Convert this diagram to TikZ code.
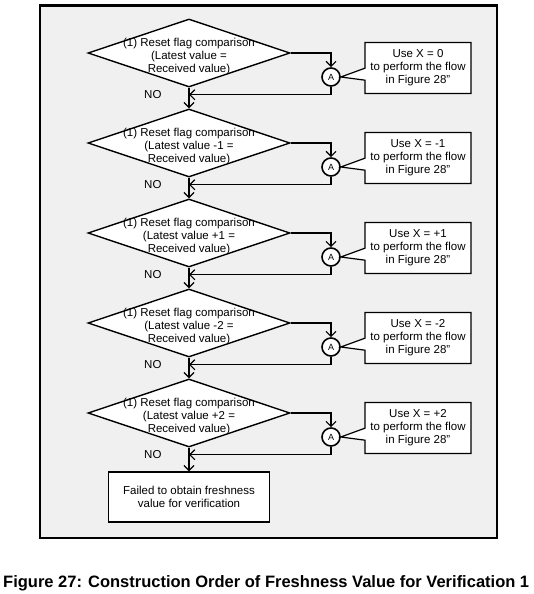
\documentclass[tikz,border=0pt]{standalone}
\usepackage{fontspec}
\setmainfont{Liberation Sans}
\usetikzlibrary{arrows.meta,positioning,shapes.geometric,shapes.callouts}
\definecolor{framebg}{HTML}{F0F0F0}

\begin{document}
\begin{tikzpicture}[x=1pt,y=1pt,node distance=90pt,on grid,
    every node/.style={font=\fontsize{11.5}{13}\selectfont},
    cmp/.style={diamond,draw,fill=white,line width=1.4pt,minimum width=202pt,minimum height=68pt,inner sep=0pt},
    cmptext/.style={align=center,inner sep=0pt},
    conn/.style={circle,draw,fill=white,line width=1.6pt,minimum size=18pt,inner sep=0pt,font=\fontsize{9}{9}\selectfont},
    usebox/.style={rectangle callout,draw,fill=white,line width=1.2pt,minimum width=106pt,minimum height=51pt,align=center,inner sep=0pt,callout pointer width=12pt},
    arr/.style={-{Straight Barb[length=5pt,width=10pt]},line width=1.2pt}]
        \useasboundingbox (0,0) rectangle (534,-594);
        \draw[line width=2.6pt,fill=framebg] (40,-5.5) rectangle (497,-538);

        % comparisons
        \node[cmp] (cmp_1) at (189,-53) {};
        \node[cmp] (cmp_2) [below=of cmp_1] {};
        \node[cmp] (cmp_3) [below=of cmp_2] {};
        \node[cmp] (cmp_4) [below=of cmp_3] {};
        \node[cmp] (cmp_5) [below=of cmp_4] {};
        \node[cmptext] (txt_1) [below=4pt of cmp_1] {(1) Reset flag comparison\\(Latest value =\\Received value)};
        \node[cmptext] (txt_2) [below=4pt of cmp_2] {(1) Reset flag comparison\\(Latest value -1 =\\Received value)};
        \node[cmptext] (txt_3) [below=4pt of cmp_3] {(1) Reset flag comparison\\(Latest value +1 =\\Received value)};
        \node[cmptext] (txt_4) [below=4pt of cmp_4] {(1) Reset flag comparison\\(Latest value -2 =\\Received value)};
        \node[cmptext] (txt_5) [below=4pt of cmp_5] {(1) Reset flag comparison\\(Latest value +2 =\\Received value)};
        \node[draw,fill=white,line width=1.4pt,minimum width=161pt,minimum height=50pt,align=center] (fail) [below=84pt of cmp_5] {Failed to obtain freshness\\value for verification};

        % connectors A
        \node[conn] (a_1) [below right=24pt and 142pt of cmp_1] {A};
        \node[conn] (a_2) [below right=24pt and 142pt of cmp_2] {A};
        \node[conn] (a_3) [below right=24pt and 142pt of cmp_3] {A};
        \node[conn] (a_4) [below right=24pt and 142pt of cmp_4] {A};
        \node[conn] (a_5) [below right=24pt and 142pt of cmp_5] {A};

        % notes
        \node[usebox,callout absolute pointer={(a_1.east)}] (use_1) [above right=9pt and 87pt of a_1] {Use X = 0\\to perform the flow\\in Figure 28"};
        \node[usebox,callout absolute pointer={(a_2.east)}] (use_2) [above right=9pt and 87pt of a_2] {Use X = -1\\to perform the flow\\in Figure 28"};
        \node[usebox,callout absolute pointer={(a_3.east)}] (use_3) [above right=9pt and 87pt of a_3] {Use X = +1\\to perform the flow\\in Figure 28"};
        \node[usebox,callout absolute pointer={(a_4.east)}] (use_4) [above right=9pt and 87pt of a_4] {Use X = -2\\to perform the flow\\in Figure 28"};
        \node[usebox,callout absolute pointer={(a_5.east)}] (use_5) [above right=9pt and 87pt of a_5] {Use X = +2\\to perform the flow\\in Figure 28"};

        \coordinate[below=7pt of cmp_1.south] (j_1);
        \coordinate[below=7pt of cmp_2.south] (j_2);
        \coordinate[below=7pt of cmp_3.south] (j_3);
        \coordinate[below=7pt of cmp_4.south] (j_4);
        \coordinate[below=7pt of cmp_5.south] (j_5);
        \node (no_1) [left=24pt of j_1] {NO};
        \node (no_2) [left=24pt of j_2] {NO};
        \node (no_3) [left=24pt of j_3] {NO};
        \node (no_4) [left=24pt of j_4] {NO};
        \node (no_5) [left=24pt of j_5] {NO};

        \draw[arr] (cmp_1) -- (cmp_2);
        \draw[arr] (cmp_2) -- (cmp_3);
        \draw[arr] (cmp_3) -- (cmp_4);
        \draw[arr] (cmp_4) -- (cmp_5);
        \draw[arr] (cmp_5) -- (fail);
        \draw[arr] (cmp_1.east) -| (a_1);
        \draw[arr] (cmp_2.east) -| (a_2);
        \draw[arr] (cmp_3.east) -| (a_3);
        \draw[arr] (cmp_4.east) -| (a_4);
        \draw[arr] (cmp_5.east) -| (a_5);
        \draw[arr] (a_1) |- (j_1);
        \draw[arr] (a_2) |- (j_2);
        \draw[arr] (a_3) |- (j_3);
        \draw[arr] (a_4) |- (j_4);
        \draw[arr] (a_5) |- (j_5);

        \node[anchor=base west,inner sep=0pt,font=\fontsize{16.5}{19}\bfseries\selectfont] (caption) at (3,-587) {Figure 27: Construction Order of Freshness Value for Verification 1};
\end{tikzpicture}
\end{document}
